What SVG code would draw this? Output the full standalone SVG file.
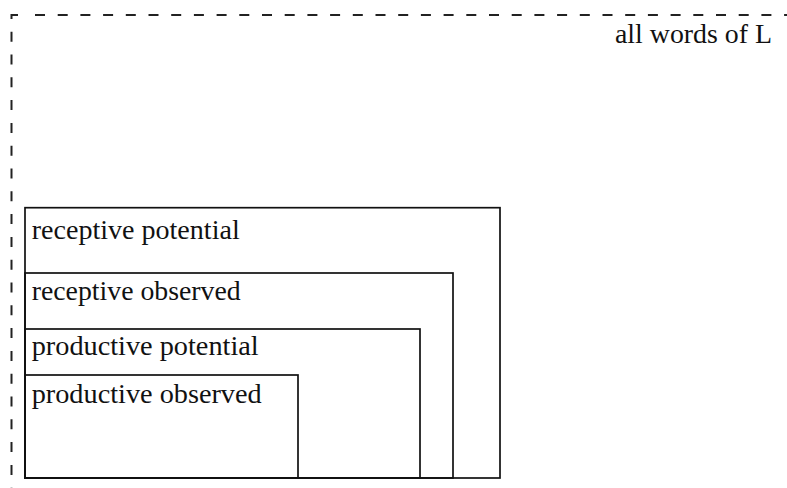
<svg xmlns="http://www.w3.org/2000/svg" width="787" height="488" viewBox="0 0 787 488">
<style>
.box{fill:none;stroke:#111;stroke-width:1.7}
.dash{fill:none;stroke:#222;stroke-width:2}
.lbl{font-family:"Liberation Serif","Times New Roman",serif;font-size:27px;fill:#111}
</style>
<rect width="787" height="488" fill="#fff"/>
<g id="all-words">
<path class="dash" d="M11.5,19 V15 H18"/>
<path class="dash" d="M11.5,31.7 V500" stroke-dasharray="10 12.8"/>
<path class="dash" d="M35,15 H800" stroke-dasharray="10 12.7"/>
<text class="lbl" x="615" y="42.7" textLength="157" lengthAdjust="spacingAndGlyphs">all words of L</text>
</g>
<g id="receptive-potential">
<rect class="box" x="25" y="207.7" width="475" height="270.3"/>
<text class="lbl" x="31.7" y="239" textLength="208" lengthAdjust="spacingAndGlyphs">receptive potential</text>
</g>
<g id="receptive-observed">
<rect class="box" x="25" y="273" width="428" height="205"/>
<text class="lbl" x="31.7" y="300" textLength="209" lengthAdjust="spacingAndGlyphs">receptive observed</text>
</g>
<g id="productive-potential">
<rect class="box" x="25" y="329" width="395" height="149"/>
<text class="lbl" x="31.7" y="355" textLength="227" lengthAdjust="spacingAndGlyphs">productive potential</text>
</g>
<g id="productive-observed">
<rect class="box" x="25" y="375" width="273" height="103"/>
<text class="lbl" x="31.7" y="403" textLength="230" lengthAdjust="spacingAndGlyphs">productive observed</text>
</g>
<g id="connectors"></g>
</svg>
